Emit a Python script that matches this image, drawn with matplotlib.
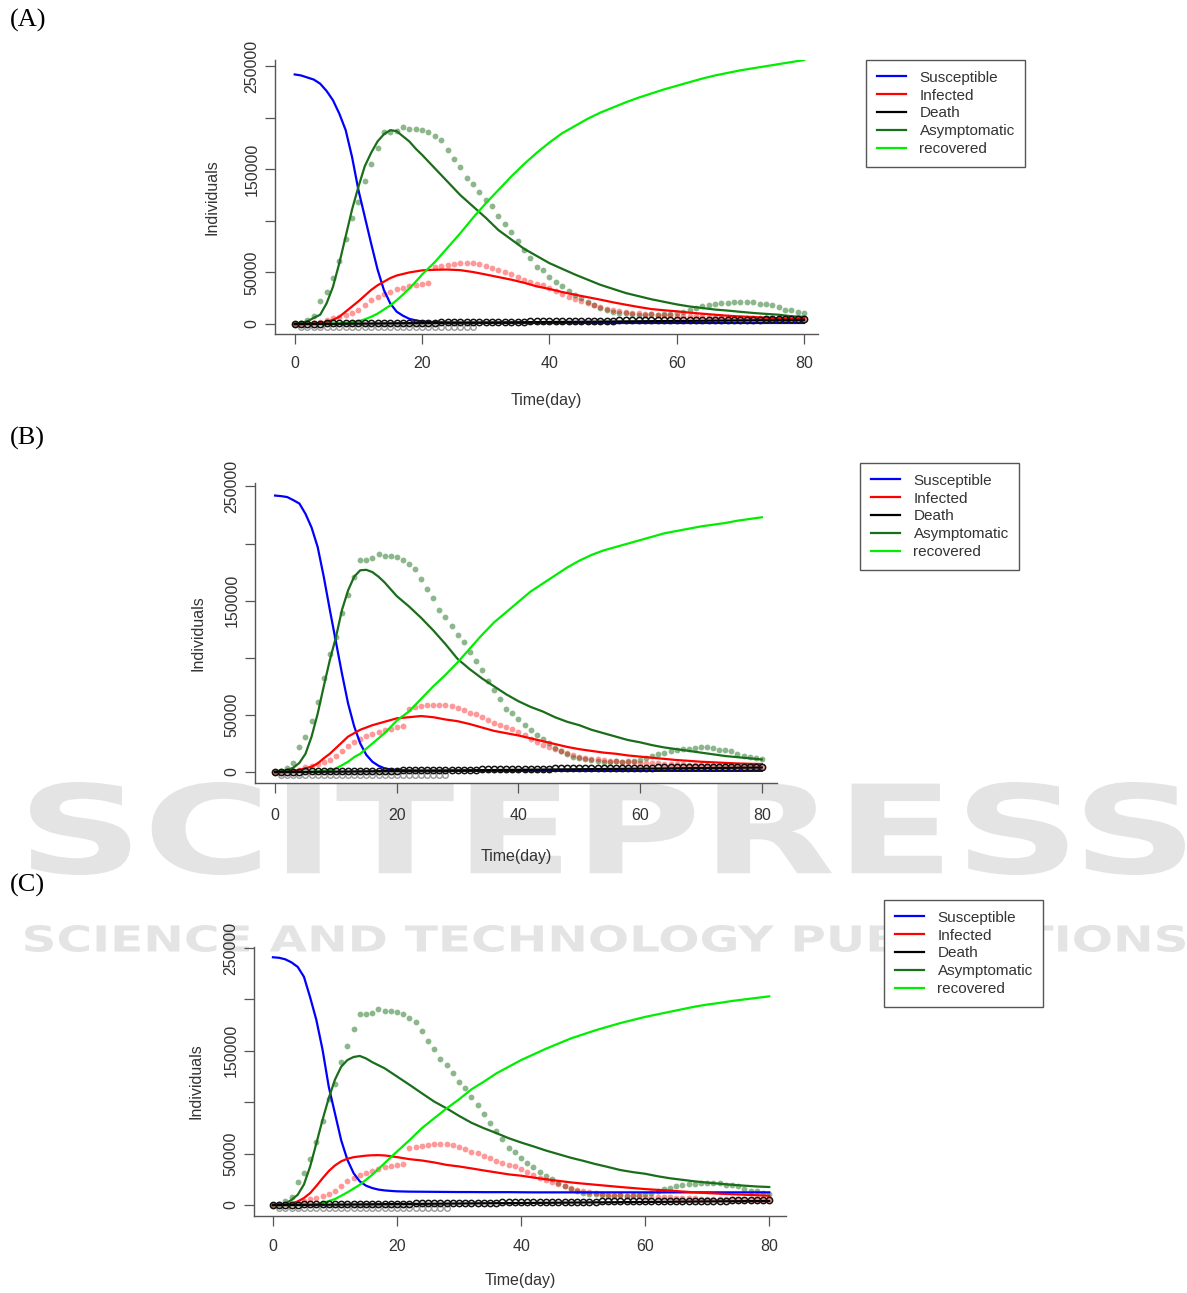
import numpy as np
import matplotlib
matplotlib.use("Agg")
import matplotlib.pyplot as plt
from matplotlib.textpath import TextPath
from matplotlib.patches import PathPatch
from matplotlib.transforms import Affine2D
from matplotlib.font_manager import FontProperties
from matplotlib.lines import Line2D

W, H = 1187, 1293

# observed data, one value per day (0..80)
obs_days = list(range(81))
obs_asym = [0, 1000, 3500, 7500, 22000, 31000, 45000, 61000, 82000, 103000,
            118000, 139000, 155000, 171000, 186000, 186000, 187000, 191000, 189000, 189000,
            188000, 186000, 182000, 178000, 169000, 160000, 152000, 142000, 136000, 128000,
            120000, 114000, 105000, 97000, 89000, 80000, 72000, 64000, 55000, 52000,
            46000, 41000, 37000, 32000, 28500, 25000, 21000, 18000, 15500, 13500,
            12000, 11000, 10500, 10000, 9000, 9000, 10000, 9000, 9500, 10000,
            10500, 12000, 14000, 15500, 17000, 18000, 19000, 20000, 20500, 21000,
            21500, 21500, 21000, 19500, 19000, 18000, 16000, 14000, 13500, 12000, 11000]
obs_inf = [0, 300, 600, 1000, 2000, 4000, 5500, 7000, 8500, 10500,
           14000, 18500, 23000, 26500, 29000, 31500, 33500, 35000, 36500, 37500,
           39000, 40000, 55000, 56500, 57500, 58500, 59000, 59000, 59000, 58000,
           56000, 54000, 52000, 50500, 48000, 45500, 43000, 41000, 39000, 37500,
           35000, 32000, 29000, 26500, 24000, 22000, 20000, 18000, 16500, 15000,
           13500, 12500, 11500, 11000, 10500, 10000, 9500, 9000, 8800, 8500,
           8200, 8000, 7800, 7500, 7300, 7000, 6800, 6600, 6400, 6200,
           6000, 5800, 5700, 5500, 5400, 5200, 5100, 5000, 4900, 4800, 4700]
obs_death = [0, 200, 300, 300, 400, 500, 500, 600, 700, 700,
             800, 900, 900, 1000, 1000, 1100, 1100, 1200, 1200, 1300,
             1300, 1400, 1400, 1500, 1500, 1600, 1600, 1700, 1700, 1800,
             2000, 2100, 2200, 2200, 2300, 2400, 2400, 2500, 2600, 2600,
             2700, 2800, 2800, 2900, 3000, 3000, 3100, 3100, 3200, 3300,
             3300, 3400, 3400, 3500, 3500, 3600, 3600, 3700, 3700, 3800,
             3800, 3900, 3900, 4000, 4000, 4000, 4100, 4100, 4200, 4200,
             4200, 4300, 4300, 4300, 4400, 4400, 4400, 4500, 4500, 4500, 4500]
low_days = list(range(1, 29))
obs_low = [-3000] * 28

# model output: daily up to day 20, then every 2 days
fit_days = list(range(21)) + list(range(22, 81, 2))

death_fit = [0, 30, 60, 100, 130, 170, 200, 250, 300, 350, 400, 450, 500, 550, 600, 650,
             700, 760, 820, 880, 950,
             1050, 1150, 1250, 1350, 1450, 1550, 1650, 1750, 1850, 1950, 2050, 2150, 2250,
             2350, 2450, 2550, 2650, 2750, 2850, 2950, 3050, 3150, 3250, 3350, 3450, 3550,
             3650, 3750, 3850, 3950]

# panel A
sus_a = [242000, 241000, 239000, 237000, 233000, 226000, 217000, 204000, 188000, 162000,
         130000, 104000, 78000, 53000, 33000, 20000, 12000, 8000, 5000, 3500, 2500,
         1800, 1500, 1300, 1200, 1100] + [1000] * 25
inf_a = [0, 0, 200, 500, 1000, 2000, 4000, 7000, 12000, 17000, 22000, 27500, 33000, 37500,
         41000, 44500, 47000, 48500, 50000, 51000, 52000,
         52600, 52800, 52200, 50400, 48000, 45500, 43000, 40000, 36500, 34000, 31000, 28400,
         26000, 23600, 21000, 18700, 16500, 14500, 13300, 12300, 11000, 10000, 9000, 8000,
         7300, 6800, 6100, 5500, 5100, 4800]
asym_a = [0, 1000, 2600, 6000, 9000, 20000, 36000, 59000, 85000, 111000, 133000, 153000,
          166000, 177000, 184000, 188000, 187000, 182000, 177000, 170000, 164000,
          151000, 138000, 125000, 114000, 103000, 91000, 82000, 73000, 66000, 59000, 53500,
          48000, 43000, 38000, 34000, 30000, 27000, 24000, 21500, 19000, 17000, 15500, 14000,
          13000, 11800, 10700, 9800, 9000, 7500, 7000]
rec_a = [0, 0, 0, 0, 0, 100, 300, 500, 1000, 1700, 2600, 4500, 7000, 10000, 14000, 18000,
         23000, 28500, 34500, 41000, 48000,
         60000, 74000, 88000, 103000, 117000, 130000, 143000, 155000, 166000, 176000, 185000,
         192000, 199000, 205000, 210000, 215000, 219500, 223500, 227500, 231000, 234500,
         238000, 241000, 243500, 246000, 248000, 250000, 252000, 254000, 256000]

# panel B
sus_b = [242000, 241500, 240700, 238000, 235000, 226000, 214000, 197000, 171000, 142000,
         114000, 86000, 60000, 40000, 25000, 15000, 9000, 5500, 3200, 2300, 1700,
         1400, 1200, 1100] + [1000] * 27
inf_b = [0, 0, 300, 800, 2000, 3200, 4700, 7500, 12000, 16000, 21000, 26000, 31000, 34000,
         37000, 39000, 41000, 42500, 44000, 45500, 47000,
         48000, 49000, 48000, 46000, 44500, 42000, 39000, 36000, 34000, 32000, 29500, 27000,
         24500, 22000, 20000, 18500, 17000, 16000, 14500, 13500, 12500, 11500, 10500, 9800,
         9000, 8500, 8000, 7500, 7200, 7000]
asym_b = [0, 800, 1700, 3800, 8000, 16000, 31000, 51000, 75000, 98000, 118000, 142000,
          159000, 171000, 176600, 177000, 175000, 171000, 166000, 160000, 154000,
          145000, 135000, 124000, 112000, 99000, 90000, 82000, 75000, 68000, 62000, 57000,
          53000, 48000, 44000, 41000, 37000, 34000, 31000, 28000, 26000, 23500, 21500, 20000,
          18500, 17000, 15500, 14000, 13000, 12000, 11000]
rec_b = [0, 0, 0, 0, 0, 0, 200, 500, 900, 1700, 3200, 6000, 9000, 13000, 16000, 20500,
         25000, 29500, 34000, 39500, 45000,
         53000, 64000, 75000, 85000, 96000, 108000, 120000, 131000, 140000, 149000, 158000,
         165000, 172000, 179000, 185000, 190000, 194000, 197000, 200000, 203000, 206000,
         209000, 211000, 213000, 215000, 216500, 218000, 220000, 221500, 223000]

# panel C
sus_c = [241000, 240500, 239000, 236000, 231600, 222000, 202000, 180000, 151000, 115000,
         89000, 63000, 44000, 31000, 23000, 18800, 16500, 15000, 14200, 13700, 13300,
         13000, 12900, 12800, 12700, 12600, 12600, 12500, 12500, 12500, 12400] + [12300] * 20
inf_c = [0, 200, 500, 1500, 3500, 6800, 11600, 18500, 26000, 33000, 38500, 42500, 45000,
         46500, 47300, 48000, 48400, 48500, 48200, 47500, 46600,
         44600, 43300, 41400, 39000, 37500, 35600, 33600, 31700, 29800, 28500, 26700, 25000,
         23500, 22000, 20800, 19700, 18600, 17500, 16500, 15500, 14700, 14000, 13100, 12300,
         11600, 11000, 10500, 10000, 9500, 9000]
asym_c = [0, 500, 1300, 5000, 10000, 20000, 37500, 60000, 83000, 104000, 122000, 134500,
          141000, 144000, 145000, 142600, 139000, 136000, 133000, 129000, 125000,
          117000, 108700, 100600, 94000, 86700, 80000, 74700, 70000, 65000, 60800, 57000,
          53000, 49500, 46000, 43000, 39800, 37000, 34000, 32000, 30400, 28000, 26000, 24500,
          23000, 21800, 20700, 19700, 18800, 18000, 17500]
rec_c = [0, 0, 0, 0, 0, 100, 300, 800, 2000, 3800, 5800, 9000, 12300, 16000, 19700, 24500,
         29400, 35000, 40700, 46500, 52000,
         63000, 74700, 84400, 94000, 102800, 112500, 120000, 128000, 134500, 141000, 146500,
         152000, 157000, 162000, 166000, 170000, 173500, 177000, 180000, 183000, 185500,
         188000, 190500, 193000, 195000, 196600, 198500, 200000, 201500, 203000]

labels = ["Susceptible", "Infected", "Death", "Asymptomatic", "recovered"]
colors = ["#0000ff", "#ff0000", "#000000", "#1a6e1a", "#00ee00"]
yticks = [0, 50000, 100000, 150000, 200000, 250000]
yticklabels = ["0", "50000", "", "150000", "", "250000"]
xticks = [0, 20, 40, 60, 80]

plt.rcParams["font.family"] = ["Liberation Sans", "DejaVu Sans"]
fig = plt.figure(figsize=(W / 100, H / 100), dpi=100)


def px_rect(l, t, r, b):
    return [l / W, 1 - b / H, (r - l) / W, (b - t) / H]


def stamp(text, l, t, r, b, color, weight="bold"):
    tp = TextPath((0, 0), text, size=100,
                  prop=FontProperties(family="DejaVu Sans", weight=weight))
    ext = tp.get_extents()
    tr = (Affine2D().translate(-ext.x0, -ext.y0)
          .scale((r - l) / ext.width, (b - t) / ext.height)
          .translate(l, H - b).scale(1 / W, 1 / H))
    patch = PathPatch(tr.transform_path(tp), facecolor=color, edgecolor="none",
                      transform=fig.transFigure, zorder=-5)
    fig.add_artist(patch)


# publisher watermark behind the plots
stamp("SCITEPRESS", 30, 782, 1185, 875, "#e4e4e4")
stamp("SCIENCE AND TECHNOLOGY PUBLICATIONS", 25, 925, 1185, 952, "#e4e4e4")


def panel(rect, xlim, ylim, sus, inf, asym, rec, letter, letter_y, leg_xy,
          xpad, xlabpad, ylabpad):
    ax = fig.add_axes(rect)
    ax.set_facecolor("none")
    ax.plot(obs_days, obs_asym, "o", color="#1a6e1a", alpha=0.5, ms=4.2, mew=0)
    ax.plot(obs_days, obs_inf, "o", color="#ff0000", alpha=0.4, ms=4.2, mew=0)
    ax.plot(low_days, obs_low, "o", mfc="none", mec="#999999", ms=4, mew=1)
    ax.plot(fit_days, sus, color=colors[0], lw=1.6)
    ax.plot(fit_days, inf, color=colors[1], lw=1.6)
    ax.plot(fit_days, asym, color=colors[3], lw=1.6)
    ax.plot(fit_days, rec, color=colors[4], lw=1.6)
    ax.plot(fit_days, death_fit, color=colors[2], lw=1.6)
    ax.plot(obs_days, obs_death, "o", mfc="none", mec="#111111", ms=4.5, mew=1.1)
    ax.set_xlim(*xlim)
    ax.set_ylim(*ylim)
    ax.set_xticks(xticks)
    ax.set_yticks(yticks)
    ax.set_yticklabels(yticklabels)
    for side in ["top", "right"]:
        ax.spines[side].set_visible(False)
    for side in ["left", "bottom"]:
        ax.spines[side].set_color("#555555")
        ax.spines[side].set_linewidth(1.0)
    ax.tick_params(direction="out", length=7, width=0.9, color="#555555",
                   labelsize=11.5, labelcolor="#333333")
    ax.tick_params(axis="x", pad=xpad)
    ax.tick_params(axis="y", pad=4, labelrotation=90)
    for lbl in ax.get_yticklabels():
        lbl.set_va("center")
    ax.set_xlabel("Time(day)", fontsize=11.5, color="#333333", labelpad=xlabpad)
    ax.set_ylabel("Individuals", fontsize=11.5, color="#333333", labelpad=ylabpad)
    fig.text(10 / W, 1 - letter_y / H, letter, fontsize=19, va="center",
             family="Liberation Serif")
    handles = [Line2D([], [], color=c, lw=1.6) for c in colors]
    leg = fig.legend(handles, labels, loc="upper left",
                     bbox_to_anchor=(leg_xy[0] / W, 1 - leg_xy[1] / H),
                     bbox_transform=fig.transFigure, borderaxespad=0,
                     fontsize=11, handlelength=1.9, handletextpad=0.9,
                     borderpad=0.7, labelspacing=0.25, fancybox=False,
                     edgecolor="#555555", framealpha=1)
    leg.get_frame().set_linewidth(1.0)
    for t in leg.get_texts():
        t.set_color("#333333")
    return ax


panel(px_rect(275, 60, 817.5, 334), (-3.1, 82.1), (-9700, 256000),
      sus_a, inf_a, asym_a, rec_a, "(A)", 20, (866, 60), 9, 15.5, 18)
panel(px_rect(255, 483, 777, 783), (-3.3, 82.5), (-9600, 253000),
      sus_b, inf_b, asym_b, rec_b, "(B)", 438, (860, 463), 11, 18.5, 14)
panel(px_rect(253.7, 947, 786, 1216), (-3.1, 82.7), (-10700, 251000),
      sus_c, inf_c, asym_c, rec_c, "(C)", 885, (884, 900), 9.5, 14, 14)

fig.savefig("out.png", dpi=100, facecolor="white")
